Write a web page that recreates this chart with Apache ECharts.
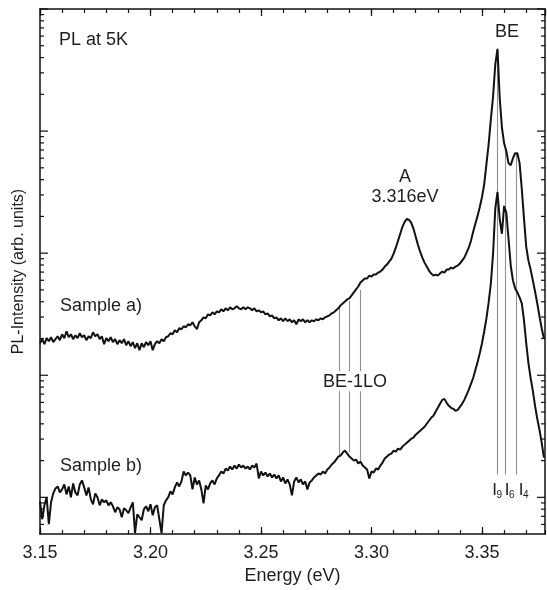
<!DOCTYPE html>
<html><head><meta charset="utf-8">
<script src="https://cdn.jsdelivr.net/npm/echarts@6/dist/echarts.min.js"></script>
<style>html,body{margin:0;padding:0;background:#fff}#c{width:547px;height:590px}</style>
</head><body><div id="c"></div>
<script>
// Energy sampling grid (eV)
const energyStart = 3.150;
const energyStep = 0.001;

// PL intensity (arb. units), sample a)
const sampleA = [
183.1,197.4,179.7,201.1,190.1,204.9,186.6,197.4,208.8,193.7,
216.8,201.1,229.3,204.9,216.8,197.4,212.8,201.1,220.9,204.9,
212.8,193.7,208.8,201.1,225.1,208.8,216.8,197.4,208.8,179.7,
201.1,190.1,204.9,186.6,197.4,179.7,193.7,183.1,197.4,176.4,
190.1,173.1,186.6,166.7,183.1,160.6,183.1,169.9,186.6,176.4,
190.1,160.6,179.7,190.1,183.1,197.4,190.1,204.9,208.8,220.9,
216.8,233.8,225.1,242.7,238.2,252.0,247.3,261.7,256.8,271.6,
252.0,238.2,271.6,282.0,298.3,292.8,315.5,309.7,327.6,315.5,
333.8,327.6,346.6,333.8,353.2,340.2,359.9,346.6,353.2,366.7,
353.2,346.6,359.9,346.6,359.9,353.2,340.2,353.2,333.8,340.2,
327.6,333.8,315.5,321.5,304.0,309.7,292.8,298.3,282.0,292.8,
276.8,292.8,276.8,287.4,271.6,282.0,261.7,287.4,276.8,287.4,
271.6,282.0,271.6,282.0,276.8,287.4,282.0,292.8,287.4,298.3,
304.0,309.7,321.5,327.6,340.2,353.2,373.6,387.9,402.7,418.1,
426.0,450.7,476.7,504.4,533.5,575.1,597.1,619.9,619.9,655.8,
643.5,668.2,668.2,693.7,706.8,733.9,776.4,806.1,852.7,902.0,
990.6,1109,1265,1442,1644,1805,1910,1875,1772,1584,
1363,1173,1028,919.0,836.8,776.4,720.3,680.8,655.8,668.2,
655.8,680.8,706.8,693.7,733.9,733.9,761.9,747.8,776.4,791.1,
821.3,868.8,919.0,1009,1109,1265,1497,1739,2021,2392,
2886,3683,5359,7800,12465,19193,34990,47220,18834,10727,
7947,6839,5462,5260,5998,6587,6587,5462,3354,1910,
1130,868.8,733.9,597.1,485.8,387.9,304.0,242.7,201.1
];

// PL intensity (arb. units), sample b)
const sampleB = [
9.28,6.62,8.61,10.0,6.03,9.11,10.78,11.84,12.29,10.98,
11.62,12.76,10.58,12.29,10.0,13.00,10.98,10.38,12.76,13.76,
12.06,10.38,12.06,9.63,8.77,10.78,10.0,8.61,9.63,9.11,
9.45,8.61,9.11,8.45,7.55,8.29,7.98,6.87,8.14,7.84,
7.41,8.29,9.11,5.09,7.27,6.87,6.50,7.98,8.45,7.69,
8.77,7.13,8.29,8.61,6.62,5.09,8.61,9.45,10.0,11.19,
10.58,12.06,13.25,12.29,13.50,16.28,15.11,15.98,15.11,11.62,
14.55,12.76,13.76,11.62,8.94,12.52,11.62,13.00,13.76,12.76,
14.28,15.11,16.28,15.68,17.22,16.59,17.88,16.90,18.22,17.22,
18.57,17.55,18.22,17.22,17.88,16.90,18.22,17.55,18.92,14.28,
16.28,15.11,15.98,14.83,15.68,14.55,15.39,14.28,15.11,13.50,
14.55,13.00,14.01,12.76,10.38,13.50,14.55,13.25,14.01,12.76,
13.50,11.62,13.25,13.76,14.55,15.11,15.68,15.39,16.28,15.68,
16.90,17.55,18.57,19.28,20.40,21.58,21.99,23.26,24.15,22.83,
21.58,20.79,20.02,20.40,18.92,19.64,18.22,17.55,16.90,14.28,
16.28,15.98,17.22,16.90,18.22,19.28,20.79,21.58,22.41,22.83,
24.15,23.70,25.08,24.61,26.03,27.03,28.06,29.13,30.25,30.82,
32.60,33.85,35.14,36.49,37.88,40.07,42.39,44.85,46.56,50.19,
54.10,58.32,62.86,64.05,59.42,56.17,54.10,53.10,51.14,52.11,
55.12,58.32,62.86,69.04,75.83,84.87,94.97,110.4,128.3,151.8,
183.1,229.4,292.8,395.2,564.4,990.6,2304,3170,1910,1442,
2437,2138,1313,791.1,597.1,513.9,476.7,434.1,387.9,282.0,
183.1,125.9,94.97,74.42,56.17,44.02,35.81,28.06,21.18
];

// Axis tick labels / tick values
const xTickLabels = ['3.15','3.20','3.25','3.30','3.35'];
const yMajorTicks = [10,100,1000,10000,100000];
const yMinorTicks = [6,7,8,9,20,30,40,50,60,70,80,90,200,300,400,500,600,700,800,900,
  2000,3000,4000,5000,6000,7000,8000,9000,20000,30000,40000,50000,60000,70000,80000,90000];

// Marker lines: BE-1LO replicas and I9/I6/I4 bound-exciton lines
const loLineEnergy = [3.2855, 3.2896, 3.2946];
const loLineTop = [367, 405, 500];
const loLineBottom = [22.0, 23.5, 20.0];
const loLabelGap = [108, 74];
const iLineEnergy = [3.3567, 3.3605, 3.3656];
const iLineTop = [47000, 7600, 6587];
const iLineBottom = 15.4;

const X_MIN = 3.15, X_MAX = 3.3785;
const energies = sampleA.map((_, i) => +(energyStart + i * energyStep).toFixed(3));
const seriesA = energies.map((e, i) => [e, sampleA[i]]);
const seriesB = energies.map((e, i) => [e, sampleB[i]]);

const vLines = [];
loLineEnergy.forEach((e, i) => {
  vLines.push([e, loLineTop[i], loLabelGap[0]]);
  vLines.push([e, loLabelGap[1], loLineBottom[i]]);
});
iLineEnergy.forEach((e, i) => vLines.push([e, iLineTop[i], iLineBottom]));

const yTicks = yMajorTicks.map(v => [X_MIN, v, 1]).concat(yMinorTicks.map(v => [X_MIN, v, 0]));

const FONT = '"Liberation Sans", Arial, Helvetica, sans-serif';
const INK = '#111';
const TXT = '#1e1e1e';

function xAxisDef(pos, major) {
  return {
    type: 'value', min: X_MIN, max: X_MAX, position: pos,
    interval: major ? 0.05 : 0.01,
    axisLine: { show: major, onZero: false, lineStyle: { color: INK, width: 1.5 } },
    axisTick: { show: true, inside: true, length: major ? 7 : 4, lineStyle: { color: INK, width: 1.2 } },
    axisLabel: (major && pos === 'bottom') ? {
      show: true, fontSize: 18, fontFamily: FONT, color: TXT, margin: 10, showMaxLabel: false,
      formatter: v => { const k = Math.round((v - X_MIN) / 0.05); return Math.abs(X_MIN + k * 0.05 - v) < 1e-6 ? (xTickLabels[k] || '') : ''; }
    } : { show: false },
    splitLine: { show: false }
  };
}

const xAxes = [xAxisDef('bottom', true), xAxisDef('bottom', false), xAxisDef('top', true), xAxisDef('top', false)];
Object.assign(xAxes[0], { name: 'Energy (eV)', nameLocation: 'middle', nameGap: 29,
  nameTextStyle: { fontSize: 18, fontFamily: FONT, color: TXT } });

function yAxisDef(pos) {
  return {
    type: 'log', logBase: 10, min: 5, max: 100000, position: pos,
    axisLine: { show: true, onZero: false, lineStyle: { color: INK, width: 1.5 } },
    axisTick: { show: false }, axisLabel: { show: false },
    splitLine: { show: false }, minorTick: { show: false }, minorSplitLine: { show: false }
  };
}
const yAxes = [yAxisDef('left'), yAxisDef('right')];
Object.assign(yAxes[0], { name: 'PL-Intensity (arb. units)', nameLocation: 'middle', nameGap: 13,
  nameTextStyle: { fontSize: 16, fontFamily: FONT, color: TXT } });

function txt(x, y, s, size, align) {
  return { type: 'text', x: x, y: y, silent: true, z: 100,
    style: { text: s, fontSize: size, fontFamily: FONT, fill: TXT,
      align: align || 'left', verticalAlign: 'middle', textAlign: align || 'left', textVerticalAlign: 'middle' } };
}

const option = {
  animation: false,
  backgroundColor: '#fff',
  grid: { left: 40, right: 2, top: 9, bottom: 53, containLabel: false },
  xAxis: xAxes,
  yAxis: yAxes,
  series: [
    {
      type: 'custom', name: 'marker lines', xAxisIndex: 0, yAxisIndex: 0, silent: true, z: 1,
      encode: { x: 0, y: [1, 2] },
      data: vLines,
      renderItem: function (params, api) {
        const p1 = api.coord([api.value(0), api.value(1)]);
        const p2 = api.coord([api.value(0), api.value(2)]);
        return { type: 'line', shape: { x1: Math.round(p1[0]) + 0.5, y1: p1[1], x2: Math.round(p1[0]) + 0.5, y2: p2[1] },
          style: { stroke: '#8f8f8f', lineWidth: 1.1 } };
      }
    },
    {
      type: 'custom', name: 'y ticks', xAxisIndex: 0, yAxisIndex: 0, silent: true, z: 5,
      encode: { x: 0, y: 1 },
      data: yTicks,
      renderItem: function (params, api) {
        const cs = params.coordSys;
        const y = api.coord([api.value(0), api.value(1)])[1];
        const len = api.value(2) ? 8 : 4;
        const st = { stroke: INK, lineWidth: 1.2 };
        return { type: 'group', children: [
          { type: 'line', shape: { x1: cs.x, y1: y, x2: cs.x + len, y2: y }, style: st },
          { type: 'line', shape: { x1: cs.x + cs.width, y1: y, x2: cs.x + cs.width - len, y2: y }, style: st }
        ] };
      }
    },
    {
      type: 'line', name: 'Sample a)', data: seriesA, showSymbol: false, symbol: 'none', z: 3,
      lineStyle: { color: INK, width: 2 }, clip: true
    },
    {
      type: 'line', name: 'Sample b)', data: seriesB, showSymbol: false, symbol: 'none', z: 3,
      lineStyle: { color: INK, width: 2 }, clip: true
    }
  ],
  graphic: [
    txt(59, 40, 'PL at 5K', 18),
    txt(507, 32, 'BE', 18, 'center'),
    txt(405, 177, 'A', 18, 'center'),
    txt(405, 197, '3.316eV', 18, 'center'),
    txt(60, 306, 'Sample a)', 18),
    txt(60, 466, 'Sample b)', 18),
    txt(355, 382, 'BE-1LO', 18, 'center'),
    txt(494.5, 490, 'I', 17, 'center'),
    txt(496.5, 495, '9', 10),
    txt(507, 490, 'I', 17, 'center'),
    txt(509, 495, '6', 10),
    txt(521, 490, 'I', 17, 'center'),
    txt(523, 495, '4', 10)
  ]
};

const chart = echarts.init(document.getElementById('c'), null, { renderer: 'canvas', width: 547, height: 590 });
chart.setOption(option);
</script>
</body></html>
